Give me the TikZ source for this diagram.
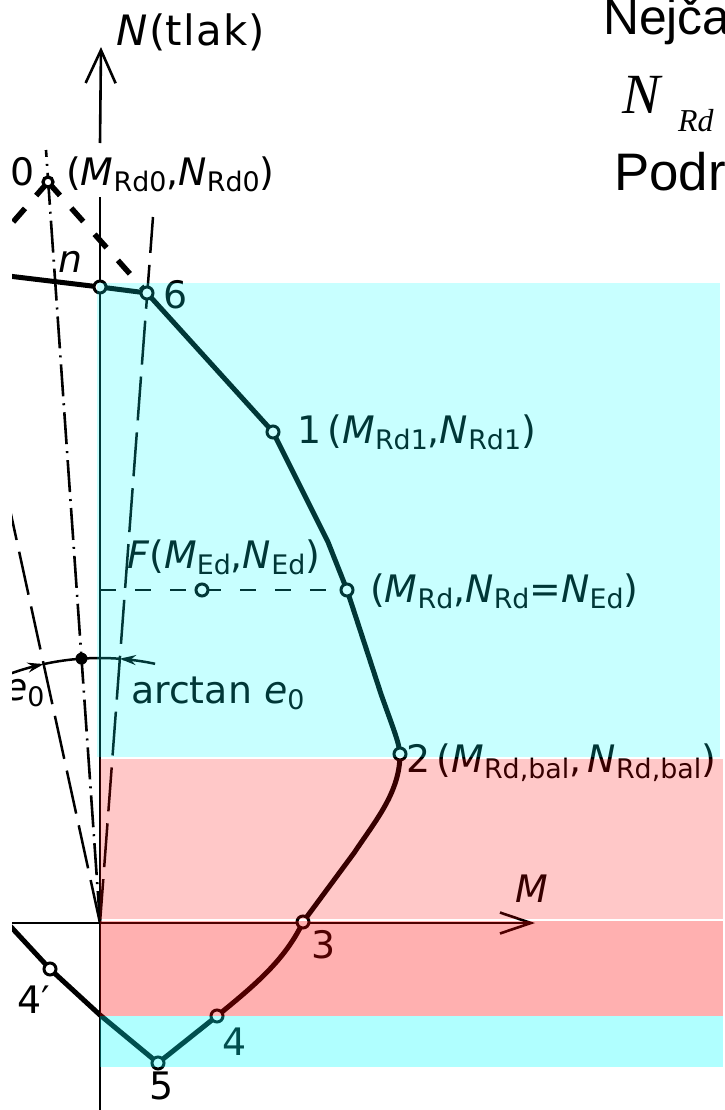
\documentclass[tikz,border=0pt]{standalone}
\usepackage{fontspec}
\setmainfont{DejaVu Sans}
\newfontfamily\arialf{Liberation Sans}
\newfontfamily\timesf{Liberation Serif}
\usetikzlibrary{arrows.meta}
\definecolor{ovcyan}{RGB}{0,255,255}
\definecolor{ovred}{RGB}{255,0,0}
\newcommand{\lbsub}[1]{\raisebox{-0.16em}{\fontsize{27}{27}\selectfont #1}}
\newcommand{\iM}{\textit{M}}
\newcommand{\iN}{\textit{N}}
\begin{document}
\begin{tikzpicture}[x=1bp,y=-1bp,
  lbl/.style={font=\fontsize{38}{40}\selectfont, inner sep=0pt, anchor=base west},
  pt/.style={circle, draw, fill=white, line width=3bp, minimum size=12bp, inner sep=0pt},
  pt0/.style={circle, draw, fill=white, line width=3.2bp, minimum size=10bp, inner sep=0pt},
  curve/.style={line width=5bp, line join=round},
  axisl/.style={line width=2.6bp},
  thinsolid/.style={line width=2.5bp},
  ldash/.style={line width=2.5bp, dash pattern=on 44bp off 12bp},
  ddot/.style={line width=2.6bp, dash pattern=on 32bp off 7bp on 2bp off 7bp},
  hdash/.style={line width=2.5bp, dash pattern=on 16bp off 19bp},
  bdash/.style={line width=5.5bp, dash pattern=on 18bp off 17bp},
  toptext/.style={anchor=base west, inner sep=0pt}]
\useasboundingbox (0,0) rectangle (725,1110);
% points
\coordinate (O) at (100,923);
\coordinate (P0) at (48,182);
\coordinate (Pn) at (46,150);
\coordinate (Pe) at (153,217);
\coordinate (Pl) at (-3,450);
\coordinate (A) at (100,287);
\coordinate (P6) at (147,293);
\coordinate (P1) at (273,432);
\coordinate (K1) at (328,542);
\coordinate (PR) at (347,590);
\coordinate (K2) at (381,694);
\coordinate (P2) at (400,754);
\coordinate (K3) at (354,853);
\coordinate (P3) at (303,922);
\coordinate (P4) at (217,1016);
\coordinate (P5) at (158,1063);
\coordinate (C0) at (100,1015);
\coordinate (P4p) at (50,969);
\coordinate (Lend) at (0,915);
\coordinate (Tl) at (0,275);
\coordinate (PF) at (202,590);
\coordinate (H0) at (100,590);
\coordinate (Ntip) at (101,47);
\coordinate (Nb1) at (100,143);
\coordinate (Nb2) at (100,197);
\coordinate (Nbot) at (100,1110);
\coordinate (Ml) at (12,923);
\coordinate (Mtip) at (535,923);
\coordinate (B0l) at (0,237);
\coordinate (Dot) at (81.5,658.6);
\begin{scope}
\clip (12,0) rectangle (725,1110);
\draw[ddot] (O) -- (Pn);
\draw[ldash] (O) -- (Pe);
\draw[ldash] (O) -- (Pl);
\draw[axisl,-{Straight Barb[length=33bp,width=30bp]}] (Nb1) -- (Ntip);
\draw[axisl] (Nb2) -- (Nbot);
\draw[axisl,-{Straight Barb[length=31bp,width=21bp]}] (Ml) -- (Mtip);
\draw[hdash] (H0) -- (PR);
% angle arcs
\draw[thinsolid,-{Stealth[length=16bp,width=10bp]}] plot[domain=-111:-102.3,samples=12] ({100+265*cos(\x)},{923+265*sin(\x)});
\draw[thinsolid] plot[domain=-102.3:-85.7,samples=20] ({100+265*cos(\x)},{923+265*sin(\x)});
\draw[thinsolid,-{Stealth[length=16bp,width=10bp]}] plot[domain=-78:-85.7,samples=12] ({100+265*cos(\x)},{923+265*sin(\x)});
\fill (Dot) circle (6);
% interaction curve
\draw[curve] (Tl) -- (A) -- (P6) -- (P1) -- (K1) -- (PR) -- (K2)
  .. controls (393,728) and (399,742) .. (P2)
  .. controls (400,792) and (376,820) .. (K3) -- (P3)
  .. controls (285,960) and (255,985) .. (P4) -- (P5) -- (C0) -- (P4p) -- (Lend);
\draw[bdash] (P0) -- (P6);
\draw[bdash] (P0) -- (B0l);
% point markers
\node[pt0] (c0) at (P0) {};
\node[pt] (cA) at (A) {};
\node[pt] (c6) at (P6) {};
\node[pt] (c1) at (P1) {};
\node[pt] (cR) at (PR) {};
\node[pt] (cF) at (PF) {};
\node[pt] (c2) at (P2) {};
\node[pt] (c3) at (P3) {};
\node[pt] (c4) at (P4) {};
\node[pt] (c5) at (P5) {};
\node[pt] (c4p) at (P4p) {};
% labels
\node[lbl, font=\fontsize{42}{44}\selectfont] (tN) at (116,45) {\iN\kern2pt(t\kern1.5pt l\kern1.5pt a\kern1.5pt k)};
\node[lbl] (t0) at (10,185) {0};
\node[lbl] (t0b) at (66,185) {(\iM\lbsub{Rd0},\iN\lbsub{Rd0})};
\node[lbl] (tn) at (58,272) {\textit{n}};
\node[lbl] (t6) at (163,308) {6};
\node[lbl] (t1) at (297,443) {1\,(\iM\lbsub{Rd1},\iN\lbsub{Rd1})};
\node[lbl] (tF) at (127,568) {\textit{F}(\iM\lbsub{Ed},\iN\lbsub{Ed})};
\node[lbl] (tR) at (370,602) {(\iM\lbsub{Rd},\iN\lbsub{Rd}=\iN\lbsub{Ed})};
\node[lbl] (tarc) at (131,703) {arctan \textit{e}\lbsub{0}};
\node[lbl] (te0) at (4,700) {\textit{e}\lbsub{0}};
\node[lbl] (t2) at (406,772) {2\,(\iM\lbsub{Rd,bal},\,\iN\lbsub{Rd,bal})};
\node[lbl] (tM) at (515,902) {\iM};
\node[lbl] (t3) at (311,958) {3};
\node[lbl] (t4) at (222,1055) {4};
\node[lbl, text depth=0pt] (t5) at (149,1099) {5};
\node[lbl] (t4p) at (17,1013) {4′};
\end{scope}
% colour overlays
\fill[ovcyan, fill opacity=0.216] (97,283) rectangle (720,757);
\fill[ovred, fill opacity=0.216] (100,759) rectangle (723,919);
\fill[ovred, fill opacity=0.31] (100,921) rectangle (723,1016);
\fill[ovcyan, fill opacity=0.31] (100,1016) rectangle (723,1067);
% top right text
\node[toptext, font=\arialf\fontsize{50}{50}\selectfont] (tNej) at (603,34) {Nejča};
\node[toptext, font=\timesf\itshape\fontsize{57}{57}\selectfont] (tNRd) at (622,113) {N};
\node[toptext, font=\timesf\itshape\fontsize{32}{32}\selectfont] (tRd) at (678,131) {Rd};
\node[toptext, font=\arialf\fontsize{53}{53}\selectfont] (tPod) at (614,190) {Podr};
\end{tikzpicture}
\end{document}
